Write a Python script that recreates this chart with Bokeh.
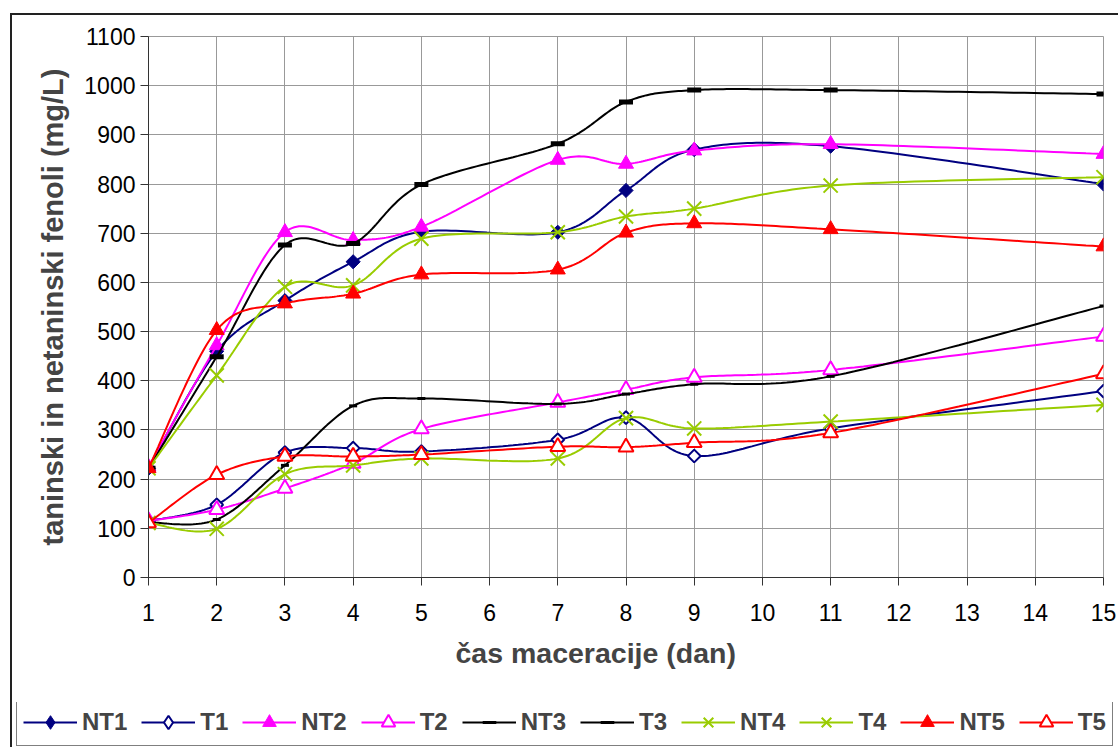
import numpy as np
from bokeh.plotting import figure
from bokeh.layouts import column, row
from bokeh.models import Legend, LegendItem, Title, FixedTicker, Range1d
from bokeh.embed import file_html
from bokeh.resources import INLINE

days = [1, 2, 3, 4, 5, 7, 8, 9, 11, 15]
NT1 = [222, 460, 563, 642, 703, 702, 787, 870, 877, 800]
T1 = [115, 148, 254, 263, 256, 280, 325, 247, 303, 379]
NT2 = [225, 472, 702, 686, 713, 849, 841, 868, 881, 861]
T2 = [115, 138, 181, 232, 302, 356, 382, 407, 422, 490]
NT3 = [222, 449, 676, 679, 799, 882, 967, 991, 991, 983]
T3 = [112, 118, 228, 349, 364, 353, 373, 393, 409, 552]
NT4 = [222, 411, 591, 594, 689, 702, 734, 750, 797, 814]
T4 = [111, 99, 210, 228, 242, 242, 324, 303, 317, 351]
NT5 = [222, 503, 557, 577, 616, 626, 701, 720, 708, 673]
T5 = [111, 209, 246, 246, 250, 266, 265, 274, 294, 414]

x_ticks = list(range(1, 16))
y_ticks = list(range(0, 1101, 100))
x_title = "čas maceracije (dan)"
y_title = "taninski in netaninski fenoli (mg/L)"

D = np.pi / 4
# name, values, colour, plot marker, legend marker, fill, size, line width, angle
series = [
    ("NT1", NT1, "#000080", "square", "diamond", "#000080", 10, 1, D),
    ("T1", T1, "#000080", "square", "diamond", "white", 9, 2, D),
    ("NT2", NT2, "#FF00FF", "triangle", "triangle", "#FF00FF", 15, 1, 0),
    ("T2", T2, "#FF00FF", "triangle", "triangle", "white", 15, 2, 0),
    ("NT3", NT3, "#000000", "dash", "dash", "#000000", 14, 5, 0),
    ("T3", T3, "#000000", "dash", "dash", "#000000", 8, 3, 0),
    ("NT4", NT4, "#99CC00", "x", "x", "#99CC00", 20, 2, 0),
    ("T4", T4, "#99CC00", "x", "x", "#99CC00", 20, 2, 0),
    ("NT5", NT5, "#FF0000", "triangle", "triangle", "#FF0000", 15, 1, 0),
    ("T5", T5, "#FF0000", "triangle", "triangle", "white", 15, 2, 0),
]

# page geometry
OX, OY = 12, 15
LEG_TOP = 702
CW = 1118 - OX
CH = LEG_TOP - OY
FL, FR, FT, FB = 148, 1103, 36, 577

p = figure(width=CW, height=CH, output_backend="svg", toolbar_location=None,
           x_range=Range1d(1, 15), y_range=Range1d(0, 1100),
           min_border_left=FL - OX, min_border_right=CW - (FR - OX),
           min_border_top=FT - OY, min_border_bottom=CH - (FB - OY))
p.outline_line_color = "#999999"
p.outline_line_width = 1

kx = (FR - FL) / 14.0
ky = (FB - FT) / 1100.0


def smooth(xs, ys, n=30):
    P = np.column_stack([np.array(xs, float) * kx, np.array(ys, float) * ky])
    outx, outy = [], []
    m = len(P)
    for i in range(m - 1):
        p0 = P[i - 1] if i > 0 else P[i]
        p1 = P[i]
        p2 = P[i + 1]
        p3 = P[i + 2] if i + 2 < m else P[i + 1]
        c1 = p1 + (p2 - p0) / 6.0
        c2 = p2 - (p3 - p1) / 6.0
        t = np.linspace(0, 1, n)[:, None]
        b = ((1 - t) ** 3) * p1 + 3 * ((1 - t) ** 2) * t * c1 + 3 * (1 - t) * t ** 2 * c2 + t ** 3 * p2
        if i > 0:
            b = b[1:]
        outx.extend(b[:, 0] / kx)
        outy.extend(b[:, 1] / ky)
    return outx, outy


# legend strip figure
lf = figure(width=CW, height=747 - LEG_TOP, output_backend="svg", toolbar_location=None,
            x_range=Range1d(0, 1), y_range=Range1d(0, 1),
            x_axis_location=None, y_axis_location=None,
            min_border=0, min_border_left=0, min_border_right=0,
            min_border_top=0, min_border_bottom=0)
lf.outline_line_color = None
lf.xgrid.visible = False
lf.ygrid.visible = False

items = []
for name, vals, col, mk, lmk, fill, size, lw, ang in series:
    sx, sy = smooth(days, vals)
    p.line(sx, sy, line_color=col, line_width=2)
    p.scatter(days, vals, marker=mk, size=size, angle=ang, line_color=col,
              fill_color=fill, line_width=lw)
    d1 = lf.line([-10, -9], [-10, -10], line_color=col, line_width=2)
    d2 = lf.scatter([-10], [-10], marker=lmk, size=size, line_color=col,
                    fill_color=fill, line_width=min(lw, 3))
    items.append(LegendItem(label=name, renderers=[d1, d2]))

p.xaxis.ticker = FixedTicker(ticks=x_ticks)
p.yaxis.ticker = FixedTicker(ticks=y_ticks)
for ax in (p.xaxis, p.yaxis):
    ax.major_label_text_font = "Liberation Sans"
    ax.major_label_text_font_size = "23px"
    ax.major_label_text_color = "#000000"
    ax.axis_line_color = "#333333"
    ax.major_tick_line_color = "#333333"
    ax.major_tick_out = 8
    ax.major_tick_in = 0
    ax.minor_tick_line_color = None
p.xaxis.major_label_standoff = 18
p.yaxis.major_label_standoff = 5

p.yaxis.axis_label = y_title
p.yaxis.axis_label_text_font = "Liberation Sans"
p.yaxis.axis_label_text_font_style = "bold"
p.yaxis.axis_label_text_font_size = "29px"
p.yaxis.axis_label_standoff = 12

p.xgrid.grid_line_color = "#999999"
p.ygrid.grid_line_color = "#999999"
p.xgrid.ticker = FixedTicker(ticks=x_ticks)
p.ygrid.ticker = FixedTicker(ticks=y_ticks)

t = Title(text=x_title, align="left", offset=455 - FL,
          text_font="Liberation Sans", text_font_style="bold",
          text_font_size="28.5px", standoff=22)
p.add_layout(t, "below")

legend = Legend(items=items, orientation="horizontal",
                location=(4, 1),
                label_text_font="Liberation Sans", label_text_font_style="bold",
                label_text_font_size="24px", label_standoff=5,
                glyph_width=54, glyph_height=34, spacing=14, padding=6,
                margin=0, border_line_color="#000000", border_line_width=1.5,
                background_fill_color="white", background_fill_alpha=1)
lf.add_layout(legend, "center")

layout = column(p, row(lf), spacing=0,
                styles={"margin-left": "10px", "margin-top": "13px",
                        "border-left": "2px solid #222", "border-top": "2px solid #222"})

open("out.html", "w").write(file_html(layout, INLINE))
